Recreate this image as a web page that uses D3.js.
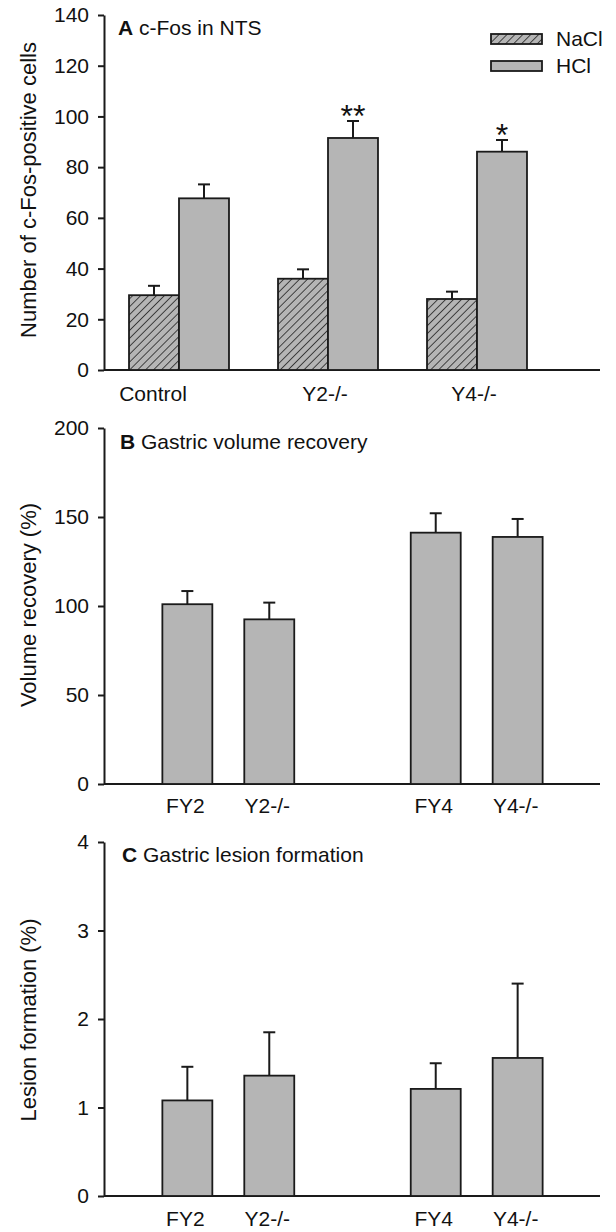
<!DOCTYPE html>
<html>
<head>
<meta charset="utf-8">
<script src="https://cdn.jsdelivr.net/npm/d3@7"></script>
<style>
    body { margin: 0; background: #fff; }
    svg { display: block; font-family: "Liberation Sans", Arial, sans-serif; }
</style>
</head>
<body>
<div class="chart"></div>
<script>
// Panel A: c-Fos in NTS
const groupsA = ['Control', 'Y2-/-', 'Y4-/-'];
const treatments = ['NaCl', 'HCl'];
const naclMean = [29.5, 36.0, 28.0];
const naclSem = [3.7, 3.7, 2.9];
const hclMean = [67.7, 91.5, 86.1];
const hclSem = [5.5, 6.7, 4.6];
const starsA = ['', '**', '*'];
const ticksA = [0, 20, 40, 60, 80, 100, 120, 140];

// Panels B and C share the categories
const pairs = ['Y2', 'Y4'];
const strains = ['FY2', 'Y2-/-', 'FY4', 'Y4-/-'];
const volMean = [101.0, 92.5, 141.2, 138.8];
const volSem = [7.4, 9.4, 10.9, 10.1];
const ticksB = [0, 50, 100, 150, 200];
const lesionMean = [1.08, 1.36, 1.21, 1.56];
const lesionSem = [0.38, 0.49, 0.29, 0.84];
const ticksC = [0, 1, 2, 3, 4];

const FILL = '#b5b5b5';
const INK = '#1a1a1a';
const AXIS_X = 104;
const AXIS_END = 600;
const FS = 21;
// the original figure has its group labels nudged a bit off centre
const labelNudgeA = {'Control': -26, 'Y2-/-': -3, 'Y4-/-': -3};

const svg = d3.select('.chart')
    .append('svg')
    .attr('width', 616)
    .attr('height', 1232);

const defs = svg.append('defs');
const hatch = defs.append('pattern')
    .attr('id', 'hatch')
    .attr('patternUnits', 'userSpaceOnUse')
    .attr('width', 5.6)
    .attr('height', 8)
    .attr('patternTransform', 'rotate(45)');
hatch.append('rect').attr('width', 5.6).attr('height', 8).attr('fill', FILL);
hatch.append('line')
    .attr('x1', 0).attr('y1', 0).attr('x2', 0).attr('y2', 8)
    .attr('stroke', INK).attr('stroke-width', 1.5);

function drawYAxis(y, ticks, bottom, title, titleY) {
    const g = svg.append('g')
        .attr('transform', `translate(${AXIS_X},0)`)
        .call(d3.axisLeft(y)
            .tickValues(ticks)
            .tickFormat(d3.format('d'))
            .tickSize(6)
            .tickPadding(9)
            .tickSizeOuter(0));
    g.select('.domain').attr('stroke', INK).attr('stroke-width', 2);
    g.selectAll('.tick line').attr('stroke', INK).attr('stroke-width', 2);
    g.selectAll('.tick text')
        .attr('font-size', FS)
        .attr('fill', '#111')
        .attr('font-family', '"Liberation Sans", Arial, sans-serif');

    // baseline
    svg.append('line')
        .attr('x1', AXIS_X).attr('x2', AXIS_END)
        .attr('y1', bottom).attr('y2', bottom)
        .attr('stroke', INK).attr('stroke-width', 2);

    svg.append('text')
        .attr('transform', `translate(36,${titleY}) rotate(-90)`)
        .attr('text-anchor', 'middle')
        .attr('font-size', 22)
        .attr('fill', '#111')
        .text(title);
}

function drawTitle(letter, text, x, y) {
    const t = svg.append('text')
        .attr('x', x).attr('y', y)
        .attr('font-size', FS)
        .attr('fill', '#111');
    t.append('tspan').attr('font-weight', 'bold').text(letter);
    t.append('tspan').text(' ' + text);
}

function drawBars(data, xPos, width, y, fill) {
    const g = svg.append('g');
    g.selectAll('line.err')
        .data(data)
        .enter()
        .append('line')
        .attr('x1', d => xPos(d) + width / 2)
        .attr('x2', d => xPos(d) + width / 2)
        .attr('y1', d => y(d.mean))
        .attr('y2', d => y(d.mean + d.sem))
        .attr('stroke', INK).attr('stroke-width', 2);
    g.selectAll('line.cap')
        .data(data)
        .enter()
        .append('line')
        .attr('x1', d => xPos(d) + width / 2 - 6)
        .attr('x2', d => xPos(d) + width / 2 + 6)
        .attr('y1', d => y(d.mean + d.sem))
        .attr('y2', d => y(d.mean + d.sem))
        .attr('stroke', INK).attr('stroke-width', 2);
    g.selectAll('rect')
        .data(data)
        .enter()
        .append('rect')
        .attr('x', d => xPos(d))
        .attr('y', d => y(d.mean))
        .attr('width', width)
        .attr('height', d => y(0) - y(d.mean))
        .attr('fill', fill)
        .attr('stroke', INK)
        .attr('stroke-width', 1.8);
}

// ---------- Panel A ----------
const yA = d3.scaleLinear().domain([0, 140]).range([370, 15]);
const xGroupA = d3.scaleBand()
    .domain(groupsA)
    .range([104.5, 551.5])
    .paddingInner(0.329)
    .paddingOuter(0.1645);
const xInnerA = d3.scaleBand().domain(treatments).range([0, xGroupA.bandwidth()]);

drawYAxis(yA, ticksA, 370, 'Number of c-Fos-positive cells', 190);

const dataNaCl = groupsA.map((g, i) => ({group: g, t: 'NaCl', mean: naclMean[i], sem: naclSem[i]}));
const dataHCl = groupsA.map((g, i) => ({group: g, t: 'HCl', mean: hclMean[i], sem: hclSem[i], star: starsA[i]}));
const posA = d => xGroupA(d.group) + xInnerA(d.t);
drawBars(dataNaCl, posA, xInnerA.bandwidth(), yA, 'url(#hatch)');
drawBars(dataHCl, posA, xInnerA.bandwidth(), yA, FILL);

svg.append('g')
    .selectAll('text')
    .data(dataHCl.filter(d => d.star))
    .enter()
    .append('text')
    .attr('x', d => posA(d) + xInnerA.bandwidth() / 2)
    .attr('y', d => yA(d.mean + d.sem) + 6)
    .attr('text-anchor', 'middle')
    .attr('font-size', 32)
    .attr('fill', '#111')
    .text(d => d.star);

svg.append('g')
    .selectAll('text')
    .data(groupsA)
    .enter()
    .append('text')
    .attr('x', d => xGroupA(d) + xGroupA.bandwidth() / 2 + labelNudgeA[d])
    .attr('y', 401)
    .attr('text-anchor', 'middle')
    .attr('font-size', FS)
    .attr('fill', '#111')
    .text(d => d);

drawTitle('A', 'c-Fos in NTS', 118, 35);

// legend
const legend = svg.append('g')
    .selectAll('g')
    .data(treatments)
    .enter()
    .append('g')
    .attr('transform', (d, i) => `translate(491,${34 + i * 27})`);
legend.append('rect')
    .attr('width', 51).attr('height', 10)
    .attr('fill', d => d === 'NaCl' ? 'url(#hatch)' : FILL)
    .attr('stroke', INK).attr('stroke-width', 1.8);
legend.append('text')
    .attr('x', 65).attr('y', 12)
    .attr('font-size', FS)
    .attr('fill', '#111')
    .text(d => d);

// ---------- Panels B and C ----------
const xPair = d3.scaleBand()
    .domain(pairs)
    .range([104, 601])
    .paddingInner(0.469)
    .paddingOuter(0.235);
const xStrain = d3.scaleBand().domain([0, 1]).range([0, xPair.bandwidth()]).paddingInner(0.39);
const posBC = d => xPair(pairs[Math.floor(d.i / 2)]) + xStrain(d.i % 2);

function drawStrainLabels(yText) {
    svg.append('g')
        .selectAll('text')
        .data(strains.map((s, i) => ({s: s, i: i})))
        .enter()
        .append('text')
        .attr('x', d => posBC(d) + xStrain.bandwidth() / 2 - 2)
        .attr('y', yText)
        .attr('text-anchor', 'middle')
        .attr('font-size', FS)
        .attr('fill', '#111')
        .text(d => d.s);
}

// Panel B
const yB = d3.scaleLinear().domain([0, 200]).range([784, 428]);
drawYAxis(yB, ticksB, 784, 'Volume recovery (%)', 605);
drawBars(strains.map((s, i) => ({i: i, mean: volMean[i], sem: volSem[i]})), posBC, xStrain.bandwidth(), yB, FILL);
drawStrainLabels(813);
drawTitle('B', 'Gastric volume recovery', 120, 449);

// Panel C
const yC = d3.scaleLinear().domain([0, 4]).range([1196, 842]);
drawYAxis(yC, ticksC, 1196, 'Lesion formation (%)', 1020);
drawBars(strains.map((s, i) => ({i: i, mean: lesionMean[i], sem: lesionSem[i]})), posBC, xStrain.bandwidth(), yC, FILL);
drawStrainLabels(1226);
drawTitle('C', 'Gastric lesion formation', 122, 862);
</script>
</body>
</html>
